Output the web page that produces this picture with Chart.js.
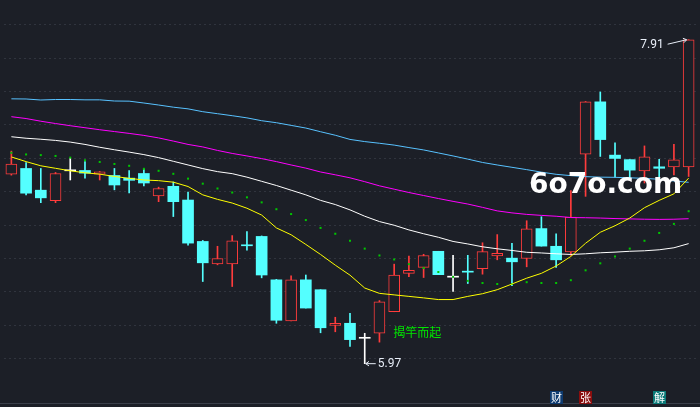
<!DOCTYPE html>
<html><head><meta charset="utf-8">
<script src="https://cdn.jsdelivr.net/npm/chart.js@4.4.1/dist/chart.umd.min.js"></script>
<style>
html,body{margin:0;padding:0;background:#1c1f27;overflow:hidden;}
#wrap{width:700px;height:407px;position:relative;}
</style>
</head><body>
<div id="wrap"><canvas id="c"></canvas></div>
<script>
// ---- data ----
const categories = ['1','2','3','4','5','6','7','8','9','10','11','12','13','14','15','16','17','18','19','20','21','22','23','24','25','26','27','28','29','30','31','32','33','34','35','36','37','38','39','40','41','42','43','44','45','46','47'];
const openP  = [7.105,7.139,7.009,6.946,7.125,7.127,7.105,7.097,7.081,7.109,6.975,7.032,6.950,6.702,6.568,6.568,6.678,6.732,6.472,6.226,6.472,6.413,6.199,6.212,6.122,6.152,6.281,6.511,6.547,6.643,6.488,6.520,6.539,6.615,6.602,6.600,6.779,6.673,6.639,7.225,7.538,7.219,7.192,7.125,7.149,7.149,7.149];
const closeP = [7.166,6.991,6.963,7.109,7.125,7.111,7.119,7.040,7.068,7.052,7.019,6.940,6.692,6.574,6.600,6.706,6.676,6.501,6.230,6.472,6.303,6.185,6.212,6.114,6.122,6.340,6.500,6.529,6.618,6.503,6.488,6.518,6.641,6.631,6.580,6.777,6.674,6.592,6.848,7.538,7.312,7.199,7.129,7.208,7.140,7.190,7.910];
const highP  = [7.243,7.174,7.139,7.115,7.199,7.180,7.121,7.139,7.127,7.135,7.027,7.058,6.997,6.708,6.673,6.737,6.761,6.735,6.475,6.496,6.501,6.413,6.248,6.271,6.152,6.348,6.566,6.614,6.625,6.643,6.619,6.619,6.694,6.743,6.690,6.826,6.850,6.748,7.007,7.540,7.597,7.292,7.192,7.274,7.194,7.284,7.910];
const lowP   = [7.099,6.981,6.934,6.934,7.070,7.081,7.070,7.011,6.993,7.034,6.940,6.851,6.680,6.462,6.562,6.432,6.649,6.484,6.212,6.226,6.303,6.155,6.161,6.073,5.970,6.099,6.281,6.491,6.486,6.503,6.403,6.450,6.506,6.592,6.437,6.550,6.674,6.547,6.619,6.972,7.211,7.087,7.081,7.052,7.081,7.100,7.091];

const maYellow  = [7.208,7.180,7.155,7.140,7.125,7.113,7.105,7.091,7.080,7.070,7.066,7.057,7.031,6.981,6.954,6.932,6.901,6.860,6.783,6.742,6.684,6.624,6.560,6.500,6.423,6.391,6.382,6.373,6.364,6.354,6.354,6.373,6.389,6.413,6.447,6.482,6.511,6.555,6.612,6.691,6.757,6.796,6.842,6.904,6.948,6.987,7.081];
const maGreen   = [7.233,7.223,7.219,7.214,7.204,7.188,7.178,7.166,7.155,7.137,7.125,7.107,7.078,7.048,7.019,6.995,6.966,6.936,6.895,6.866,6.830,6.783,6.748,6.706,6.659,6.618,6.594,6.566,6.543,6.519,6.490,6.466,6.453,6.447,6.447,6.458,6.453,6.453,6.470,6.529,6.571,6.612,6.659,6.706,6.753,6.807,6.883];
const maWhite   = [7.329,7.320,7.314,7.307,7.297,7.283,7.266,7.251,7.237,7.222,7.204,7.182,7.160,7.138,7.120,7.108,7.087,7.062,7.037,7.009,6.981,6.948,6.923,6.891,6.853,6.821,6.799,6.771,6.748,6.727,6.702,6.687,6.670,6.658,6.648,6.637,6.633,6.628,6.624,6.628,6.634,6.638,6.643,6.646,6.652,6.664,6.689];
const maMagenta = [7.449,7.438,7.422,7.408,7.395,7.383,7.371,7.360,7.349,7.337,7.322,7.303,7.283,7.268,7.247,7.229,7.214,7.198,7.180,7.160,7.141,7.118,7.101,7.083,7.060,7.035,7.015,6.995,6.977,6.959,6.942,6.926,6.906,6.885,6.873,6.864,6.858,6.853,6.845,6.844,6.842,6.839,6.837,6.835,6.834,6.835,6.838];
const maBlue    = [7.556,7.555,7.549,7.552,7.552,7.550,7.550,7.543,7.542,7.531,7.519,7.506,7.496,7.479,7.467,7.455,7.442,7.425,7.413,7.397,7.381,7.359,7.338,7.313,7.300,7.290,7.279,7.264,7.250,7.232,7.214,7.195,7.175,7.160,7.146,7.132,7.117,7.104,7.096,7.090,7.087,7.086,7.083,7.080,7.074,7.064,7.056];

const yTicks = [6.0,6.2,6.4,6.6,6.8,7.0,7.2,7.4,7.6,7.8,8.0];
const yMin = 5.7345, yMax = 8.1239;

const markerIdx  = [37,39,44];
const markerText = ['财','张','解'];
const patternIdx = 26, patternValue = 6.156, patternText = '揭竿而起';
const watermarkText = '6o7o.com';

// ---- styles ----
const BG='#1c1f27', RED='#ff3c3c', CYAN='#54ffff', WHITE='#ffffff';
const colorOf = i => closeP[i] > openP[i] ? RED : (closeP[i] < openP[i] ? CYAN : WHITE);

const bodies = openP.map((o,i)=>[o, closeP[i]]);
const wicks  = lowP.map((l,i)=>[l, highP[i]]);

function arrow(ctx, x1, y1, x2, y2){
  ctx.beginPath(); ctx.moveTo(x1,y1); ctx.lineTo(x2,y2); ctx.stroke();
  const a = Math.atan2(y2-y1, x2-x1), L=4;
  ctx.beginPath();
  ctx.moveTo(x2 - L*Math.cos(a-0.6), y2 - L*Math.sin(a-0.6));
  ctx.lineTo(x2, y2);
  ctx.lineTo(x2 - L*Math.cos(a+0.6), y2 - L*Math.sin(a+0.6));
  ctx.stroke();
}

const annot = {
  id:'annot',
  afterDatasetsDraw(chart){
    const {ctx, chartArea, scales:{x, y}} = chart;
    ctx.save();
    // bottom frame line
    ctx.strokeStyle='#3a3f4a'; ctx.lineWidth=1;
    const by = Math.round(chartArea.bottom)+0.5;
    ctx.beginPath(); ctx.moveTo(0,by); ctx.lineTo(chart.width,by); ctx.stroke();

    // extreme labels
    let hi=0, lo=0;
    for(let i=0;i<highP.length;i++){ if(highP[i]>highP[hi]) hi=i; if(lowP[i]<lowP[lo]) lo=i; }
    ctx.strokeStyle='#e8eef8'; ctx.fillStyle='#e8eef8'; ctx.lineWidth=1;
    ctx.font='12px Roboto, "Liberation Sans", sans-serif';
    const hx=x.getPixelForValue(hi), hy=y.getPixelForValue(highP[hi]);
    arrow(ctx, hx-21, hy+4.5, hx-2, hy);
    ctx.textAlign='right'; ctx.textBaseline='middle';
    ctx.fillText(highP[hi].toFixed(2), hx-25, hy+5.5);
    const lx=x.getPixelForValue(lo), ly=y.getPixelForValue(lowP[lo]);
    arrow(ctx, lx+11, ly, lx+1, ly);
    ctx.textAlign='left';
    ctx.fillText(lowP[lo].toFixed(2), lx+13, ly);

    // pattern label
    ctx.fillStyle='#00e600';
    ctx.font='12px "Noto Sans CJK SC", sans-serif';
    ctx.textAlign='left'; ctx.textBaseline='middle';
    ctx.fillText(patternText, x.getPixelForValue(patternIdx)-1, y.getPixelForValue(patternValue));

    // bottom markers
    const mcol = {'财':'#0e3b70','张':'#8a0e0e','解':'#0b7a78'};
    ctx.font='11px "Noto Sans CJK SC", sans-serif';
    ctx.textAlign='center'; ctx.textBaseline='middle';
    markerIdx.forEach((mi,k)=>{
      const mx = x.getPixelForValue(mi);
      ctx.fillStyle = mcol[markerText[k]] || '#333';
      ctx.fillRect(Math.round(mx-6.5), 391, 13, 13);
      ctx.fillStyle = '#ffffff';
      ctx.fillText(markerText[k], Math.round(mx-6.5)+6.5, 397.5);
    });

    // watermark
    ctx.fillStyle='#ffffff';
    ctx.font='bold 28px "DejaVu Sans", sans-serif';
    ctx.textAlign='left'; ctx.textBaseline='alphabetic';
    ctx.fillText(watermarkText, 529, 193);
    ctx.restore();
  }
};

const lineDs = (data,color,order) => ({type:'line', data, borderColor:color, borderWidth:1, pointRadius:0, tension:0, fill:false, order});

new Chart(document.getElementById('c'), {
  type:'bar',
  data:{
    labels: categories,
    datasets:[
      {label:'wick', data:wicks, backgroundColor: ctx=>colorOf(ctx.dataIndex), borderWidth:0, barThickness:1, grouped:false, order:3},
      {label:'body', data:bodies, backgroundColor: ctx=>{const c=colorOf(ctx.dataIndex); return c===RED?BG:c;},
        borderColor: ctx=>colorOf(ctx.dataIndex), borderWidth: ctx=>colorOf(ctx.dataIndex)===RED?1:0,
        borderSkipped:false, barThickness:11, minBarLength:1, grouped:false, order:2},
      lineDs(maBlue,'#58c2ff',1),
      lineDs(maMagenta,'#ff00ff',1),
      lineDs(maWhite,'#ffffff',1),
      lineDs(maYellow,'#ffff00',0),
      {type:'line', data:maGreen, showLine:false, pointStyle:'rect', pointRadius:1.42, pointBackgroundColor:'#00c800', pointBorderWidth:0, borderColor:'#00c800', order:0}
    ]
  },
  options:{
    responsive:true, maintainAspectRatio:false, animation:false,
    layout:{padding:{left:-5,right:4,top:0,bottom:2}},
    plugins:{legend:{display:false}, tooltip:{enabled:false}},
    scales:{
      x:{type:'category', display:false, offset:true},
      y:{min:yMin, max:yMax, display:true,
         ticks:{display:false, padding:0},
         grid:{color:'#30343e', lineWidth:1, drawTicks:false},
         border:{display:false, dash:[2,3]},
         afterBuildTicks: s => { s.ticks = yTicks.map(v=>({value:v})); },
         afterFit: s => { s.width = 0; }
      }
    }
  },
  plugins:[annot]
});
</script>
</body></html>
